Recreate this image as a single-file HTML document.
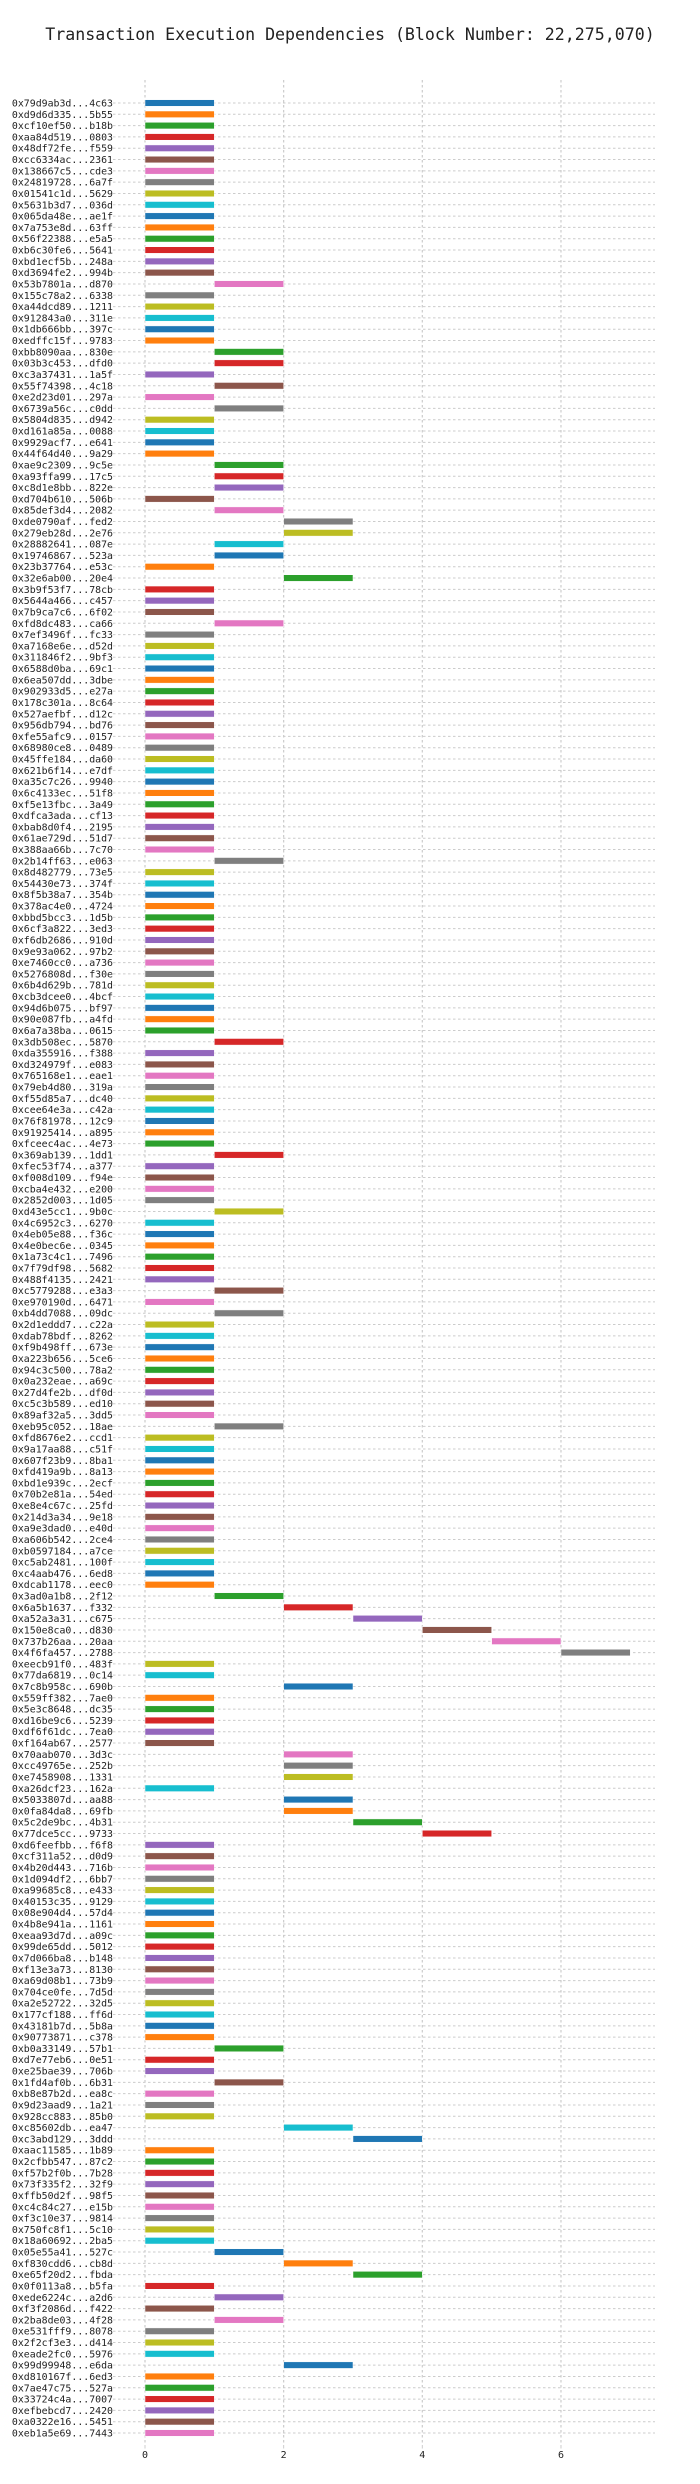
<!DOCTYPE html>
<html><head><meta charset="utf-8"><style>
html,body{margin:0;padding:0;background:#fff;}
svg{display:block;}
</style></head><body>
<svg id="chart" width="700" height="2484" xmlns="http://www.w3.org/2000/svg">
<text x="350" y="40" text-anchor="middle" font-family="'DejaVu Sans Mono','Liberation Mono',monospace" font-size="16.6" fill="#222">Transaction Execution Dependencies (Block Number: 22,275,070)</text>
</svg>
<script>
const txLabels = ["0x79d9ab3d...4c63","0xd9d6d335...5b55","0xcf10ef50...b18b","0xaa84d519...0803","0x48df72fe...f559","0xcc6334ac...2361","0x138667c5...cde3","0x24819728...6a7f","0x01541c1d...5629","0x5631b3d7...036d","0x065da48e...ae1f","0x7a753e8d...63ff","0x56f22388...e5a5","0xb6c30fe6...5641","0xbd1ecf5b...248a","0xd3694fe2...994b","0x53b7801a...d870","0x155c78a2...6338","0xa44dcd89...1211","0x912843a0...311e","0x1db666bb...397c","0xedffc15f...9783","0xbb8090aa...830e","0x03b3c453...dfd0","0xc3a37431...1a5f","0x55f74398...4c18","0xe2d23d01...297a","0x6739a56c...c0dd","0x5804d835...d942","0xd161a85a...0088","0x9929acf7...e641","0x44f64d40...9a29","0xae9c2309...9c5e","0xa93ffa99...17c5","0xc8d1e8bb...822e","0xd704b610...506b","0x85def3d4...2082","0xde0790af...fed2","0x279eb28d...2e76","0x28882641...087e","0x19746867...523a","0x23b37764...e53c","0x32e6ab00...20e4","0x3b9f53f7...78cb","0x5644a466...c457","0x7b9ca7c6...6f02","0xfd8dc483...ca66","0x7ef3496f...fc33","0xa7168e6e...d52d","0x311846f2...9bf3","0x6588d0ba...69c1","0x6ea507dd...3dbe","0x902933d5...e27a","0x178c301a...8c64","0x527aefbf...d12c","0x956db794...bd76","0xfe55afc9...0157","0x68980ce8...0489","0x45ffe184...da60","0x621b6f14...e7df","0xa35c7c26...9940","0x6c4133ec...51f8","0xf5e13fbc...3a49","0xdfca3ada...cf13","0xbab8d0f4...2195","0x61ae729d...51d7","0x388aa66b...7c70","0x2b14ff63...e063","0x8d482779...73e5","0x54430e73...374f","0x8f5b38a7...354b","0x378ac4e0...4724","0xbbd5bcc3...1d5b","0x6cf3a822...3ed3","0xf6db2686...910d","0x9e93a062...97b2","0xe7460cc0...a736","0x5276808d...f30e","0x6b4d629b...781d","0xcb3dcee0...4bcf","0x94d6b075...bf97","0x90e087fb...a4fd","0x6a7a38ba...0615","0x3db508ec...5870","0xda355916...f388","0xd324979f...e083","0x765168e1...eae1","0x79eb4d80...319a","0xf55d85a7...dc40","0xcee64e3a...c42a","0x76f81978...12c9","0x91925414...a895","0xfceec4ac...4e73","0x369ab139...1dd1","0xfec53f74...a377","0xf008d109...f94e","0xcba4e432...e200","0x2852d003...1d05","0xd43e5cc1...9b0c","0x4c6952c3...6270","0x4eb05e88...f36c","0x4e0bec6e...0345","0x1a73c4c1...7496","0x7f79df98...5682","0x488f4135...2421","0xc5779288...e3a3","0xe970190d...6471","0xb4dd7088...09dc","0x2d1eddd7...c22a","0xdab78bdf...8262","0xf9b498ff...673e","0xa223b656...5ce6","0x94c3c500...78a2","0x0a232eae...a69c","0x27d4fe2b...df0d","0xc5c3b589...ed10","0x89af32a5...3dd5","0xeb95c052...18ae","0xfd8676e2...ccd1","0x9a17aa88...c51f","0x607f23b9...8ba1","0xfd419a9b...8a13","0xbd1e939c...2ecf","0x70b2e81a...54ed","0xe8e4c67c...25fd","0x214d3a34...9e18","0xa9e3dad0...e40d","0xa606b542...2ce4","0xb0597184...a7ce","0xc5ab2481...100f","0xc4aab476...6ed8","0xdcab1178...eec0","0x3ad0a1b8...2f12","0x6a5b1637...f332","0xa52a3a31...c675","0x150e8ca0...d830","0x737b26aa...20aa","0x4f6fa457...2788","0xeecb91f0...483f","0x77da6819...0c14","0x7c8b958c...690b","0x559ff382...7ae0","0x5e3c8648...dc35","0xd16be9c6...5239","0xdf6f61dc...7ea0","0xf164ab67...2577","0x70aab070...3d3c","0xcc49765e...252b","0xe7458908...1331","0xa26dcf23...162a","0x5033807d...aa88","0x0fa84da8...69fb","0x5c2de9bc...4b31","0x77dce5cc...9733","0xd6feefbb...f6f8","0xcf311a52...d0d9","0x4b20d443...716b","0x1d094df2...6bb7","0xa99685c8...e433","0x40153c35...9129","0x08e904d4...57d4","0x4b8e941a...1161","0xeaa93d7d...a09c","0x99de65dd...5012","0x7d066ba8...b148","0xf13e3a73...8130","0xa69d08b1...73b9","0x704ce0fe...7d5d","0xa2e52722...32d5","0x177cf188...ff6d","0x43181b7d...5b8a","0x90773871...c378","0xb0a33149...57b1","0xd7e77eb6...0e51","0xe25bae39...706b","0x1fd4af0b...6b31","0xb8e87b2d...ea8c","0x9d23aad9...1a21","0x928cc883...85b0","0xc85602db...ea47","0xc3abd129...3ddd","0xaac11585...1b89","0x2cfbb547...87c2","0xf57b2f0b...7b28","0x73f335f2...32f9","0xffb50d2f...98f5","0xc4c84c27...e15b","0xf3c10e37...9814","0x750fc8f1...5c10","0x18a60692...2ba5","0x05e55a41...527c","0xf830cdd6...cb8d","0xe65f20d2...fbda","0x0f0113a8...b5fa","0xede6224c...a2d6","0xf3f2086d...f422","0x2ba8de03...4f28","0xe531fff9...8078","0x2f2cf3e3...d414","0xeade2fc0...5976","0x99d99948...e6da","0xd810167f...6ed3","0x7ae47c75...527a","0x33724c4a...7007","0xefbebcd7...2420","0xa0322e16...5451","0xeb1a5e69...7443"];
const txStarts = [0,0,0,0,0,0,0,0,0,0,0,0,0,0,0,0,1,0,0,0,0,0,1,1,0,1,0,1,0,0,0,0,1,1,1,0,1,2,2,1,1,0,2,0,0,0,1,0,0,0,0,0,0,0,0,0,0,0,0,0,0,0,0,0,0,0,0,1,0,0,0,0,0,0,0,0,0,0,0,0,0,0,0,1,0,0,0,0,0,0,0,0,0,1,0,0,0,0,1,0,0,0,0,0,0,1,0,1,0,0,0,0,0,0,0,0,0,1,0,0,0,0,0,0,0,0,0,0,0,0,0,0,1,2,3,4,5,6,0,0,2,0,0,0,0,0,2,2,2,0,2,2,3,4,0,0,0,0,0,0,0,0,0,0,0,0,0,0,0,0,0,0,1,0,0,1,0,0,0,2,3,0,0,0,0,0,0,0,0,0,1,2,3,0,1,0,1,0,0,0,2,0,0,0,0,0,0];
const txDurations = txStarts.map(() => 1);
const xTicks = [0, 2, 4, 6];

const palette = ["#1f77b4","#ff7f0e","#2ca02c","#d62728","#9467bd","#8c564b","#e377c2","#7f7f7f","#bcbd22","#17becf"];
const NS = "http://www.w3.org/2000/svg";
const svg = document.getElementById("chart");
const X0 = 145, XU = 69.33, Y0 = 103, YP = (2433 - 103) / 206;
const plotL = 121, plotR = 655, plotT = 80, plotB = 2445;
function xs(v){ return X0 + v * XU; }
function ys(i){ return Y0 + i * YP; }
function mk(tag, attrs){ const e = document.createElementNS(NS, tag); for (const k in attrs) e.setAttribute(k, attrs[k]); svg.appendChild(e); return e; }
const mono = "'DejaVu Sans Mono','Liberation Mono',monospace";

// vertical grid
xTicks.forEach(t => {
  const g = mk("line", {x1: xs(t), x2: xs(t), y1: plotT, y2: plotB, stroke: "#cccccc", "stroke-width": 1.2, "stroke-dasharray": "2.5,2.5"});
  
  
  const tk = mk("line", {x1: xs(t), x2: xs(t), y1: plotB, y2: plotB + 3.5, stroke: "#ccc", "stroke-width": 1});
  
  
  const lb = mk("text", {x: xs(t), y: plotB + 13, "text-anchor": "middle", "font-family": mono, "font-size": 10, fill: "#222"});
  lb.textContent = String(t);
  
  
});

txLabels.forEach((lab, i) => {
  const y = ys(i);
  const gl = mk("line", {x1: plotL - 8, x2: plotR, y1: y, y2: y, stroke: "#cccccc", "stroke-width": 1, "stroke-dasharray": "2.5,2.5"});
  
  
  const t = mk("text", {x: 113, y: y + 3.5, "text-anchor": "end", "font-family": mono, "font-size": 9.9, fill: "#222"});
  t.textContent = lab;
  
  
  const b = mk("rect", {x: xs(txStarts[i]), y: y - 3.3, width: txDurations[i] * XU, height: 6.6, fill: palette[i % 10], stroke: "#fff", "stroke-width": 0.5});
  
  
});
</script>
</body></html>
